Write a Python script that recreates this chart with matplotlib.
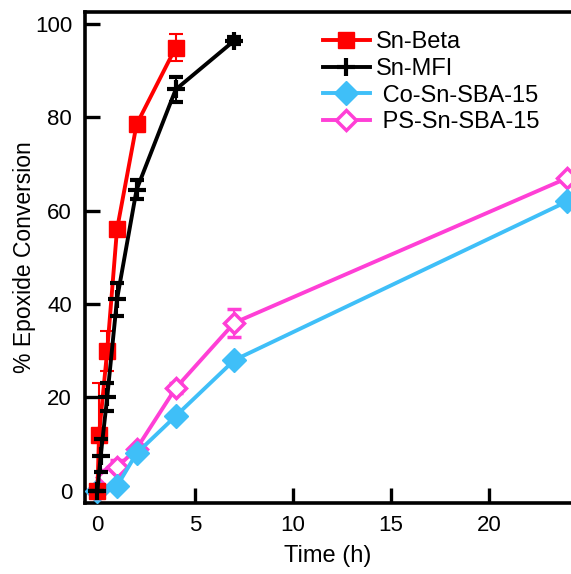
import numpy as np
import matplotlib
matplotlib.use("Agg")
import matplotlib.pyplot as plt
from matplotlib.lines import Line2D

plt.rcParams['font.family'] = ['Liberation Sans', 'DejaVu Sans']

# --- data ---
t_beta = [0, 0.083, 0.5, 1, 2, 4]
y_beta = [0, 12, 30, 56, 78.5, 95]
e_beta = [0, 11, 4.3, 0, 1.6, 2.8]

t_mfi = [0, 0.167, 0.5, 1, 2, 4, 7]
y_mfi = [0, 7.5, 20, 41, 64.5, 86, 96.5]
e_mfi = [0, 3.5, 3, 3.6, 2, 2.7, 0.8]

t_co = [0, 1, 2, 4, 7, 24]
y_co = [0, 1, 8, 16, 28, 62]

t_ps = [0, 0.5, 1, 2, 4, 7, 24]
y_ps = [0, 3, 5, 9, 22, 36, 67]
e_ps = [0, 1.5, 1.5, 0.5, 1, 3, 0.5]

labels = ['Sn-Beta', 'Sn-MFI', ' Co-Sn-SBA-15', ' PS-Sn-SBA-15']

RED = '#ff0000'
BLUE = '#3fbff8'
PINK = '#ff3fd6'

fig = plt.figure(figsize=(5.71, 5.74), dpi=100)
ax = fig.add_axes([0.148, 0.124, 0.852, 0.855])

lw = 2.8
eb = dict(capsize=5, capthick=1.5, elinewidth=1.5)
ax.errorbar(t_ps, y_ps, yerr=e_ps, color=PINK, lw=lw, marker='D', ms=10,
            mfc='white', mec=PINK, mew=2.5, zorder=2, **eb)
ax.plot(t_co, y_co, color=BLUE, lw=lw, marker='D', ms=12, zorder=3)
ax.errorbar(t_beta, y_beta, yerr=e_beta, color=RED, lw=lw, marker='s', ms=12,
            zorder=4, **eb)
ax.errorbar(t_mfi, y_mfi, yerr=e_mfi, color='black', lw=lw, marker='+', ms=13,
            mew=3, zorder=5, **eb)

ax.set_xlim(-0.66, 24.2)
ax.set_ylim(-2.6, 102.6)
ax.set_xticks([0, 5, 10, 15, 20])
ax.set_yticks([0, 20, 40, 60, 80, 100])

for s in ['left', 'bottom', 'top']:
    ax.spines[s].set_linewidth(2.6)
ax.spines['right'].set_visible(False)
ax.tick_params(direction='in', length=11, width=2.4, labelsize=16, pad=9)

ax.set_xlabel('Time (h)', fontsize=17, labelpad=6)
ax.set_ylabel('% Epoxide Conversion', fontsize=16.5, labelpad=-1)

handles = [
    Line2D([], [], color=RED, lw=lw, marker='s', ms=12),
    Line2D([], [], color='black', lw=lw, marker='+', ms=13, mew=3),
    Line2D([], [], color=BLUE, lw=lw, marker='D', ms=12),
    Line2D([], [], color=PINK, lw=lw, marker='D', ms=10, mfc='white', mew=2.5),
]
ax.legend(handles, labels, loc='upper left', bbox_to_anchor=(0.47, 0.98),
          frameon=False, fontsize=17, handlelength=2.0, handletextpad=0.25,
          labelspacing=0.2, borderaxespad=0)

fig.savefig('out.png', dpi=100)
